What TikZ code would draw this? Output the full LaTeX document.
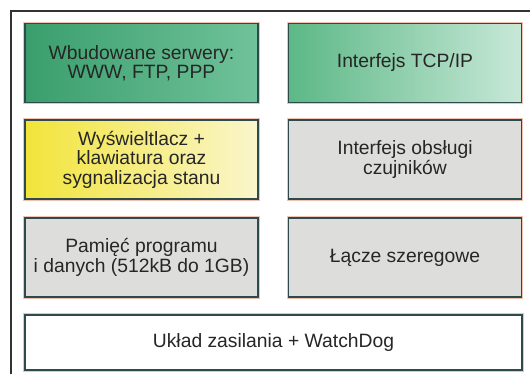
\documentclass[tikz,border=0pt]{standalone}
\usepackage{fontspec}
\setmainfont{Liberation Sans}
\usetikzlibrary{positioning}
\definecolor{framegray}{HTML}{303436}
\definecolor{boxedge}{HTML}{2E4A4C}
\definecolor{halo}{HTML}{F2C2B0}
\definecolor{srvdark}{HTML}{3A9E6C}
\definecolor{srvlight}{HTML}{70C29A}
\definecolor{tcpdark}{HTML}{5CB886}
\definecolor{tcplight}{HTML}{C8E8D8}
\definecolor{dispdark}{HTML}{F2E43A}
\definecolor{displight}{HTML}{FAF6CC}
\definecolor{modgray}{HTML}{DDDDDB}
\definecolor{txtdark}{HTML}{262626}

\begin{document}
\begin{tikzpicture}[x=1bp,y=-1bp,
  blockbox/.style={draw=boxedge,line width=1.8bp,minimum width=233bp,minimum height=79bp,
    align=center,inner sep=0pt,text=txtdark,
    font=\fontsize{19.3bp}{19.5bp}\selectfont,
    preaction={draw=halo,line width=3.6bp}},
  graybox/.style={blockbox,fill=modgray}]
  \useasboundingbox (0,0) rectangle (530,374);
  % ramka
  \draw[framegray,line width=2bp] (11,374) -- (11,11) -- (530,11);
  % moduly
  \node[blockbox,left color=srvdark,right color=srvlight] (serwery) at (141.5,63)
    {Wbudowane serwery:\\WWW, FTP, PPP};
  \node[blockbox,left color=tcpdark,right color=tcplight] (tcpip) at (405,63)
    {Interfejs TCP/IP};
  \node[blockbox,left color=dispdark,right color=displight] (wysw) at (141.5,159.5)
    {Wyświeltlacz +\\klawiatura oraz\\sygnalizacja stanu};
  \node[graybox] (czujniki) at (405,159.5) {Interfejs obsługi\\czujników};
  \node[graybox] (pamiec) at (141.5,257.5) {Pamięć programu\\i danych (512kB do 1GB)};
  \node[graybox] (lacze) at (405,257.5) {Łącze szeregowe};
  \node[blockbox,fill=white,minimum width=497bp,minimum height=55bp] (zasil) at (273.5,342.5)
    {Układ zasilania + WatchDog};
\end{tikzpicture}
\end{document}
